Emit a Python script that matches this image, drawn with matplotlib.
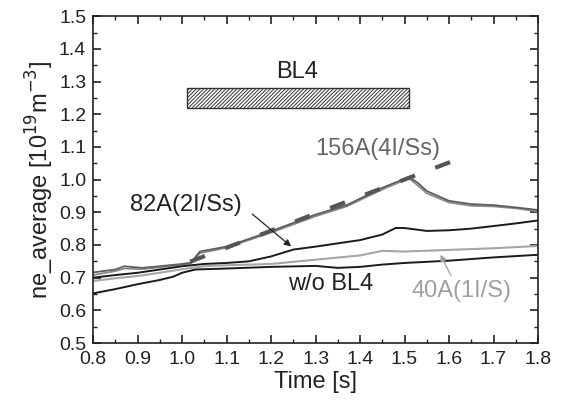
import matplotlib
matplotlib.use("Agg")
import matplotlib.pyplot as plt
from matplotlib.patches import Rectangle
from matplotlib.ticker import MultipleLocator

plt.rcParams['font.family'] = ['Liberation Sans', 'DejaVu Sans']
plt.rcParams['hatch.linewidth'] = 0.7

# w/o BL4 (black)
t_wo = [0.80, 0.85, 0.90, 0.95, 0.98, 1.00, 1.03, 1.10, 1.20, 1.30, 1.35, 1.40, 1.45, 1.50, 1.60, 1.70, 1.80]
ne_wo = [0.652, 0.665, 0.680, 0.693, 0.703, 0.715, 0.725, 0.728, 0.733, 0.736, 0.730, 0.733, 0.740, 0.745, 0.752, 0.762, 0.770]

# 82A (2I/Ss) (black)
t_82 = [0.80, 0.85, 0.90, 0.95, 1.00, 1.05, 1.10, 1.15, 1.20, 1.25, 1.30, 1.35, 1.40, 1.45, 1.48, 1.50, 1.55, 1.60, 1.65, 1.70, 1.75, 1.80]
ne_82 = [0.700, 0.708, 0.715, 0.725, 0.735, 0.742, 0.745, 0.750, 0.765, 0.786, 0.795, 0.805, 0.815, 0.832, 0.852, 0.852, 0.843, 0.845, 0.850, 0.858, 0.866, 0.875]

# 40A (1I/S) (light gray)
t_40 = [0.80, 0.85, 0.90, 0.95, 1.00, 1.05, 1.10, 1.20, 1.30, 1.40, 1.45, 1.50, 1.60, 1.70, 1.80]
ne_40 = [0.690, 0.698, 0.705, 0.715, 0.726, 0.735, 0.738, 0.742, 0.755, 0.768, 0.782, 0.780, 0.785, 0.790, 0.797]

# 156A (4I/Ss), two shots (gray)
t_156 = [0.80, 0.85, 0.87, 0.91, 0.95, 1.00, 1.02, 1.04, 1.08, 1.10, 1.20, 1.30, 1.37, 1.45, 1.51, 1.53, 1.55, 1.60, 1.65, 1.70, 1.75, 1.80]
ne_156a = [0.716, 0.725, 0.735, 0.730, 0.735, 0.742, 0.746, 0.780, 0.790, 0.795, 0.842, 0.893, 0.922, 0.975, 1.008, 0.990, 0.965, 0.935, 0.925, 0.922, 0.915, 0.907]
ne_156b = [0.708, 0.720, 0.728, 0.726, 0.732, 0.740, 0.743, 0.775, 0.786, 0.792, 0.838, 0.888, 0.918, 0.970, 1.004, 0.982, 0.958, 0.930, 0.920, 0.918, 0.912, 0.903]

# linear rise fit (dashed)
t_fit = [1.018, 1.607]
ne_fit = [0.749, 1.056]

# BL4 pulse window
bl4_start, bl4_end = 1.01, 1.51
bl4_low, bl4_high = 1.22, 1.28

fig = plt.figure(figsize=(5.61, 4.05), dpi=100)
ax = fig.add_axes([0.166, 0.153, 0.793, 0.807])

ax.plot(t_156, ne_156b, color='#8a8a8a', lw=1.3)
ax.plot(t_156, ne_156a, color='#5e5e5e', lw=1.3)
ax.plot(t_fit, ne_fit, color='#555555', lw=3.0, dashes=(3.8, 5.2))
ax.plot(t_40, ne_40, color='#a6a6a6', lw=1.5)
ax.plot(t_82, ne_82, color='#1a1a1a', lw=1.4)
ax.plot(t_wo, ne_wo, color='#1a1a1a', lw=1.4)

ax.add_patch(Rectangle((bl4_start, bl4_low), bl4_end - bl4_start, bl4_high - bl4_low,
                       facecolor='white', edgecolor='#333333', hatch='/////////', lw=1.0))
ax.text(1.258, 1.329, 'BL4', fontsize=17, ha='center', va='center', color='#222222')

ax.text(1.44, 1.093, '156A(4I/Ss)', fontsize=17, ha='center', va='center', color='#666666')
ax.text(1.009, 0.922, '82A(2I/Ss)', fontsize=17, ha='center', va='center', color='#222222')
ax.annotate('', xy=(1.25, 0.79), xytext=(1.153, 0.90),
            arrowprops=dict(arrowstyle='-|>', color='#222222', lw=0.9, mutation_scale=10))
ax.text(1.335, 0.680, 'w/o BL4', fontsize=17, ha='center', va='center', color='#222222')
ax.text(1.627, 0.659, '40A(1I/S)', fontsize=17, ha='center', va='center', color='#a0a0a0')
ax.annotate('', xy=(1.578, 0.778), xytext=(1.607, 0.699),
            arrowprops=dict(arrowstyle='-|>', color='#a0a0a0', lw=0.9, mutation_scale=10))

ax.set_xlim(0.8, 1.8)
ax.set_ylim(0.5, 1.5)
ax.xaxis.set_major_locator(MultipleLocator(0.1))
ax.xaxis.set_minor_locator(MultipleLocator(0.05))
ax.yaxis.set_major_locator(MultipleLocator(0.1))
ax.yaxis.set_minor_locator(MultipleLocator(0.05))
ax.xaxis.set_major_formatter(plt.FormatStrFormatter('%.1f'))
ax.yaxis.set_major_formatter(plt.FormatStrFormatter('%.1f'))
ax.tick_params(which='both', direction='in', top=True, right=True, labelsize=14, colors='#222222')
ax.tick_params(which='major', length=6, width=1.2)
ax.tick_params(which='minor', length=3, width=1.0)
ax.tick_params(axis='x', which='major', pad=6)
ax.tick_params(axis='y', which='major', pad=5)
for s in ax.spines.values():
    s.set_linewidth(1.2)
    s.set_color('#222222')

ax.set_xlabel('Time [s]', fontsize=17, labelpad=2, color='#222222')
ax.set_ylabel('ne_average [10$^{19}$m$^{-3}$]', fontsize=17, labelpad=2, color='#222222')

fig.savefig('out.png', dpi=100)
